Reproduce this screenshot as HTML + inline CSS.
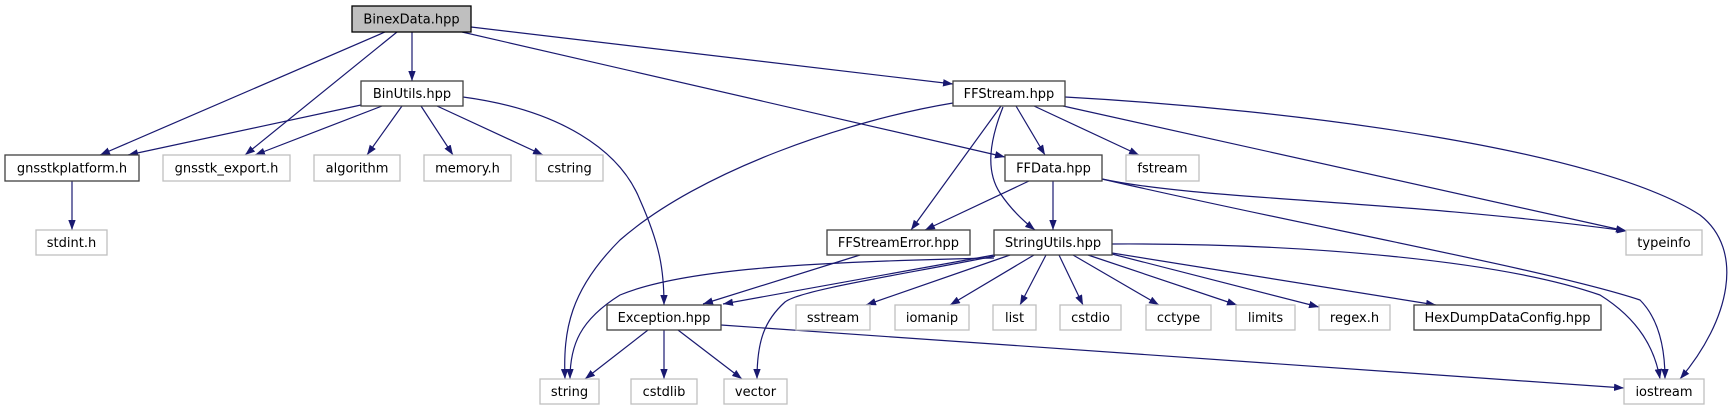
<!DOCTYPE html>
<html><head><meta charset="utf-8"><style>
html,body{margin:0;padding:0;background:#fff;}
svg{display:block;}
text{font-family:"DejaVu Sans","Liberation Sans",sans-serif;font-size:13px;fill:#000;text-anchor:middle;}
.e{fill:none;stroke:#191970;stroke-width:1.2;marker-end:url(#a);}
.n{fill:#fff;stroke:#404040;stroke-width:1.3;}
.g{fill:#fff;stroke:#bfbfbf;stroke-width:1.3;}
</style></head><body>
<svg width="1733" height="411" viewBox="0 0 1733 411" xmlns="http://www.w3.org/2000/svg">
<defs><marker id="a" markerUnits="userSpaceOnUse" markerWidth="11" markerHeight="8" refX="10" refY="3.7" orient="auto"><polygon points="0,0 10,3.7 0,7.4" fill="#191970"/></marker></defs>
<!-- edges -->
<path class="e" d="M385,32 L100,155"/>
<path class="e" d="M397,32 L245,155"/>
<path class="e" d="M412,32 L412,81"/>
<path class="e" d="M462,32 L1005,157"/>
<path class="e" d="M471,27 L953,84"/>
<path class="e" d="M361,105 L128,155"/>
<path class="e" d="M382,106 L255,155"/>
<path class="e" d="M402,106 L367,155"/>
<path class="e" d="M421,106 L453,155"/>
<path class="e" d="M437,106 L543,155"/>
<path class="e" d="M463,97 C560,110 620,150 640,200 C660,245 664,270 664,305"/>
<path class="e" d="M72,181 L72,230"/>
<path class="e" d="M953,103 C850,120 700,170 620,240 C570,290 563,330 565,379"/>
<path class="e" d="M1016,106 L1045,155"/>
<path class="e" d="M1034,106 L1139,155"/>
<path class="e" d="M1001,106 L911,230"/>
<path class="e" d="M1003,107 C990,140 985,170 1000,193 C1010,208 1022,220 1035,230"/>
<path class="e" d="M1063,106 L1626,231"/>
<path class="e" d="M1065,97 C1300,110 1600,150 1700,215 C1745,250 1730,320 1680,379"/>
<path class="e" d="M1029,181 L925,230"/>
<path class="e" d="M1053,181 L1053,230"/>
<path class="e" d="M1102,179 C1200,200 1400,200 1627,231"/>
<path class="e" d="M1102,179 C1300,225 1550,270 1640,300 C1660,320 1665,350 1665,379"/>
<path class="e" d="M860,255 L703,304"/>
<path class="e" d="M994,255 L723,304"/>
<path class="e" d="M994,258 C800,262 680,270 620,295 C580,320 570,345 570,379"/>
<path class="e" d="M995,256 C900,275 800,290 785,302 C765,320 757,340 757,379"/>
<path class="e" d="M1010,255 L866,305"/>
<path class="e" d="M1034,255 L950,305"/>
<path class="e" d="M1046,255 L1020,305"/>
<path class="e" d="M1059,255 L1083,305"/>
<path class="e" d="M1073,255 L1159,305"/>
<path class="e" d="M1088,255 L1237,305"/>
<path class="e" d="M1112,254 L1319,307"/>
<path class="e" d="M1112,253 L1436,305"/>
<path class="e" d="M1112,244 C1300,243 1500,260 1600,295 C1640,320 1655,350 1660,379"/>
<path class="e" d="M648,330 L585,379"/>
<path class="e" d="M664,330 L664,379"/>
<path class="e" d="M678,330 L742,379"/>
<path class="e" d="M721,325 L1624,388"/>
<!-- nodes -->
<rect x="352" y="6" width="119" height="26" fill="#bfbfbf" stroke="#000" stroke-width="1.3"/><text x="411.5" y="23.5">BinexData.hpp</text>
<rect class="n" x="361" y="81" width="102" height="25"/><text x="412" y="98">BinUtils.hpp</text>
<rect class="n" x="5" y="155" width="134" height="26"/><text x="72" y="172.5">gnsstkplatform.h</text>
<rect class="g" x="163" y="155" width="127" height="26"/><text x="226.5" y="172.5">gnsstk_export.h</text>
<rect class="g" x="314" y="155" width="86" height="26"/><text x="357" y="172.5">algorithm</text>
<rect class="g" x="424" y="155" width="87" height="26"/><text x="467.5" y="172.5">memory.h</text>
<rect class="g" x="536" y="155" width="67" height="26"/><text x="569.5" y="172.5">cstring</text>
<rect class="g" x="36" y="230" width="71" height="25"/><text x="71.5" y="247">stdint.h</text>
<rect class="n" x="953" y="81" width="112" height="25"/><text x="1009" y="98">FFStream.hpp</text>
<rect class="n" x="1005" y="155" width="97" height="26"/><text x="1053.5" y="172.5">FFData.hpp</text>
<rect class="g" x="1126" y="155" width="73" height="26"/><text x="1162.5" y="172.5">fstream</text>
<rect class="n" x="827" y="230" width="143" height="25"/><text x="898.5" y="247">FFStreamError.hpp</text>
<rect class="n" x="994" y="230" width="118" height="25"/><text x="1053" y="247">StringUtils.hpp</text>
<rect class="g" x="1626" y="230" width="76" height="25"/><text x="1664" y="247">typeinfo</text>
<rect class="n" x="607" y="305" width="114" height="25"/><text x="664" y="322">Exception.hpp</text>
<rect class="g" x="796" y="305" width="74" height="25"/><text x="833" y="322">sstream</text>
<rect class="g" x="895" y="305" width="74" height="25"/><text x="932" y="322">iomanip</text>
<rect class="g" x="993" y="305" width="43" height="25"/><text x="1014.5" y="322">list</text>
<rect class="g" x="1060" y="305" width="61" height="25"/><text x="1090.5" y="322">cstdio</text>
<rect class="g" x="1146" y="305" width="65" height="25"/><text x="1178.5" y="322">cctype</text>
<rect class="g" x="1236" y="305" width="59" height="25"/><text x="1265.5" y="322">limits</text>
<rect class="g" x="1319" y="305" width="71" height="25"/><text x="1354.5" y="322">regex.h</text>
<rect class="n" x="1414" y="305" width="187" height="25"/><text x="1507.5" y="322">HexDumpDataConfig.hpp</text>
<rect class="g" x="540" y="379" width="59" height="25"/><text x="569.5" y="396">string</text>
<rect class="g" x="631" y="379" width="66" height="25"/><text x="664" y="396">cstdlib</text>
<rect class="g" x="724" y="379" width="63" height="25"/><text x="755.5" y="396">vector</text>
<rect class="g" x="1624" y="379" width="80" height="25"/><text x="1664" y="396">iostream</text>
</svg>
</body></html>
